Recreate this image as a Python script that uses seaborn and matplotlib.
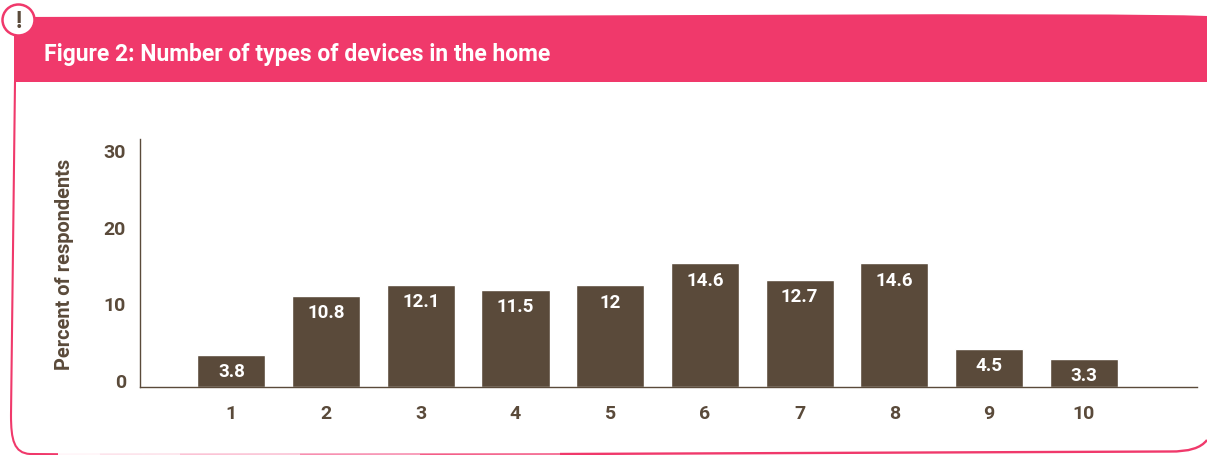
import matplotlib
matplotlib.use("Agg")
import matplotlib.pyplot as plt
from matplotlib.patches import Ellipse, PathPatch
from matplotlib.path import Path
import numpy as np
import pandas as pd
import seaborn as sns

# Survey results: share of respondents by number of device types at home
device_counts = ["1", "2", "3", "4", "5", "6", "7", "8", "9", "10"]
percent_values = [3.8, 10.8, 12.1, 11.5, 12, 14.6, 12.7, 14.6, 4.5, 3.3]
value_labels = ["3.8", "10.8", "12.1", "11.5", "12", "14.6", "12.7", "14.6", "4.5", "3.3"]
y_tick_labels = ["0", "10", "20", "30"]

TITLE = "Figure 2: Number of types of devices in the home"
Y_LABEL = "Percent of respondents"

BROWN = "#5a4a3a"
PINK = "#f0396b"
W, H = 1207, 455
FONT = "Roboto"

sns.set_theme(style="white")
plt.rcParams["font.family"] = [FONT, "DejaVu Sans"]

fig = plt.figure(figsize=(W / 100, H / 100), dpi=100, facecolor="white")

# Decorative panel: header band, hand-drawn outline and the callout bubble
deco = fig.add_axes([0, 0, 1, 1], zorder=0)
deco.set_xlim(0, W)
deco.set_ylim(H, 0)
deco.axis("off")

band = Path(
    [(14, 82), (14, 17), (600, 16), (1100, 12), (1207, 16), (1207, 82), (14, 82)],
    [Path.MOVETO, Path.LINETO, Path.CURVE4, Path.CURVE4, Path.CURVE4, Path.LINETO, Path.CLOSEPOLY],
)
deco.add_patch(PathPatch(band, facecolor=PINK, edgecolor="none"))

outline_left = Path(
    [(15, 82), (13, 250), (11, 415), (11, 440), (14, 453), (30, 454), (58, 454.2)],
    [Path.MOVETO, Path.LINETO, Path.LINETO, Path.CURVE4, Path.CURVE4, Path.CURVE4, Path.LINETO],
)
deco.add_patch(PathPatch(outline_left, facecolor="none", edgecolor=PINK, lw=1.5))

# The lower edge fades in from pale pink towards the right-hand corner
fade_stops = [(58, "#fff5f8"), (100, "#fde3eb"), (180, "#fbc3d5"), (300, "#f78fb0"), (420, "#f35e88"), (560, PINK)]
for (x0, c), (x1, _) in zip(fade_stops, fade_stops[1:] + [(560, PINK)]):
    deco.plot([x0, x1], [454.2, 454.0], color=c, lw=1.2, solid_capstyle="butt")

outline_right = Path(
    [(560, 454), (1170, 451.5), (1198, 452), (1207, 440)],
    [Path.MOVETO, Path.LINETO, Path.CURVE3, Path.CURVE3],
)
deco.add_patch(PathPatch(outline_right, facecolor="none", edgecolor=PINK, lw=1.7))

deco.add_patch(Ellipse((18.5, 20), 32, 31, facecolor="white", edgecolor=PINK, lw=1.8))
deco.text(18.5, 21, "!", color=BROWN, fontsize=17, fontweight="bold", ha="center", va="center")
deco.text(44, 54.5, TITLE, color="white", fontsize=16.5, fontweight="bold", ha="left", va="center")

# Bar chart
ax = fig.add_axes([140 / W, 1 - 387 / H, (1197 - 140) / W, (387 - 139) / H], zorder=1)
ax.patch.set_alpha(0)

df = pd.DataFrame({"devices": device_counts, "percent": percent_values})
sns.barplot(data=df, x="devices", y="percent", color=BROWN, saturation=1, width=0.72, ax=ax)
ax.set_xlim(-0.965, 10.195)
ax.set_ylim(0, 29.3)

for patch, text in zip(ax.patches, value_labels):
    ax.annotate(
        text,
        (patch.get_x() + patch.get_width() / 2, patch.get_height()),
        xytext=(0, -12.5),
        textcoords="offset points",
        ha="center",
        va="center",
        color="white",
        fontsize=13.5,
        fontweight="bold",
    )

# The printed value scale runs a little tighter than the bars and sits just above the baseline
ax.set_yticks([0.7 + float(t) * 0.907 for t in y_tick_labels], labels=y_tick_labels)
ax.tick_params(axis="both", length=0, labelcolor=BROWN, labelsize=14)
ax.tick_params(axis="x", pad=13)
ax.tick_params(axis="y", pad=10)
for label in ax.get_xticklabels() + ax.get_yticklabels():
    label.set_fontweight("bold")

ax.set_xlabel("")
ax.set_ylabel("")
fig.text(65 / W, 1 - 264 / H, Y_LABEL, rotation=90, color=BROWN, fontsize=14.4,
         fontweight="bold", ha="center", va="center")

for side in ["top", "right"]:
    ax.spines[side].set_visible(False)
for side in ["left", "bottom"]:
    ax.spines[side].set_color(BROWN)
    ax.spines[side].set_linewidth(1.0)

fig.savefig("out.png", dpi=100, facecolor="white")
